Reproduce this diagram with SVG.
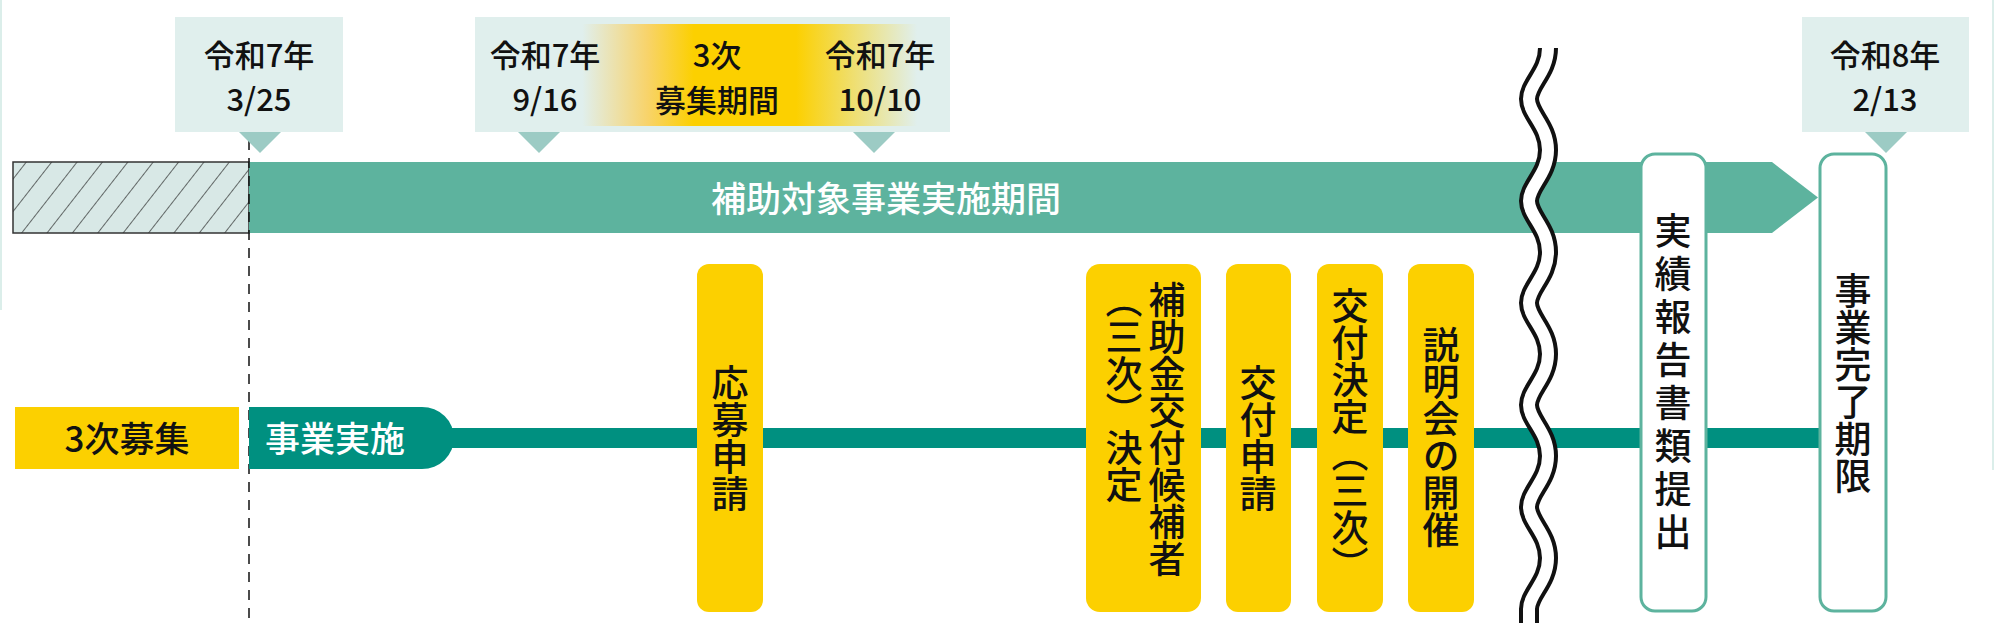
<svg xmlns="http://www.w3.org/2000/svg" width="2000" height="623" viewBox="0 0 2000 623">
<style>
text{font-family:"Noto Sans CJK JP","Noto Sans",sans-serif;}
.d{font-size:31px;fill:#111;text-anchor:middle;font-weight:500;}
.db{fill:#e0efed;}
.tri{fill:#9ccbc4;}
.pill{fill:#fcd000;}
.wpill{fill:#fff;stroke:#5db39e;stroke-width:3;}
.v{writing-mode:vertical-rl;font-size:37px;fill:#111;font-weight:500;}
.vm{text-anchor:middle;}
</style>
<defs>
<pattern id="hatch" patternUnits="userSpaceOnUse" width="20" height="20" patternTransform="rotate(38)">
<rect width="20" height="20" fill="#d8e8e6"/>
<line x1="0" y1="0" x2="0" y2="20" stroke="#222" stroke-width="1.3"/>
</pattern>
<linearGradient id="yg" x1="0" x2="1" y1="0" y2="0">
<stop offset="0" stop-color="#e0efed"/>
<stop offset="0.22" stop-color="#e0efed"/>
<stop offset="0.36" stop-color="#f8d36a"/>
<stop offset="0.46" stop-color="#fcd000"/>
<stop offset="0.68" stop-color="#fcd000"/>
<stop offset="0.94" stop-color="#e0efed"/>
</linearGradient>
</defs>
<rect width="2000" height="623" fill="#fff"/>
<line x1="1" y1="0" x2="1" y2="310" stroke="#dbeeea" stroke-width="2"/>
<line x1="1993" y1="0" x2="1993" y2="470" stroke="#dbeeea" stroke-width="2"/>

<g id="connectors">
<rect x="13" y="162" width="236" height="71" fill="url(#hatch)" stroke="#333" stroke-width="1.5"/>
<path d="M249 162 H1772 L1818 197.5 L1772 233 H249 Z" fill="#5db39e"/>
<line x1="249" y1="140" x2="249" y2="623" stroke="#111" stroke-width="1.5" stroke-dasharray="10,8"/>
<rect x="440" y="428" width="1380" height="20" fill="#009080"/>
</g>

<g id="bar-label"><text x="886" y="212" font-size="35" font-weight="500" fill="#fff" text-anchor="middle">補助対象事業実施期間</text></g>

<g id="date1">
<rect class="db" x="175" y="17" width="168" height="115"/>
<polygon class="tri" points="239,132 281,132 260,153"/>
<text class="d" x="259" y="67">令和7年</text>
<text class="d" x="259" y="111">3/25</text>
</g>
<g id="date2">
<rect class="db" x="475" y="17" width="475" height="115"/>
<rect x="480" y="24" width="465" height="102" fill="url(#yg)"/>
<polygon class="tri" points="518,132 560,132 539,153"/>
<polygon class="tri" points="853,132 895,132 874,153"/>
<text class="d" x="545" y="67">令和7年</text>
<text class="d" x="545" y="111">9/16</text>
<text class="d" x="717" y="67" font-weight="bold">3次</text>
<text class="d" x="717" y="112" font-weight="bold">募集期間</text>
<text class="d" x="880" y="67">令和7年</text>
<text class="d" x="880" y="111">10/10</text>
</g>
<g id="date3">
<rect class="db" x="1802" y="17" width="167" height="115"/>
<polygon class="tri" points="1865,132 1907,132 1886,153"/>
<text class="d" x="1885" y="67">令和8年</text>
<text class="d" x="1885" y="111">2/13</text>
</g>

<g id="recruit3">
<rect x="15" y="407" width="224" height="62" fill="#fcd000"/>
<text x="127" y="452" font-size="35" font-weight="500" fill="#111" text-anchor="middle">3次募集</text>
</g>
<g id="jigyo">
<path d="M249 407 H422 A32 31 0 0 1 422 469 H249 Z" fill="#009080"/>
<text x="335" y="452" font-size="35" font-weight="500" fill="#fff" text-anchor="middle">事業実施</text>
</g>

<g id="n-oubo"><rect class="pill" x="697" y="264" width="66" height="348" rx="12"/><text class="v vm" x="730" y="438">応募申請</text></g>
<g id="n-kouho"><rect class="pill" x="1086" y="264" width="115" height="348" rx="14"/>
<text class="v" x="1167" y="281">補助金交付候補者</text>
<text class="v" x="1124" y="281">（三次）決定</text></g>
<g id="n-koufushinsei"><rect class="pill" x="1226" y="264" width="65" height="348" rx="12"/><text class="v vm" x="1258" y="438">交付申請</text></g>
<g id="n-koufukettei"><rect class="pill" x="1317" y="264" width="66" height="348" rx="12"/><text class="v vm" x="1350" y="435">交付決定（三次）</text></g>
<g id="n-setsumei"><rect class="pill" x="1408" y="264" width="66" height="348" rx="12"/><text class="v vm" x="1441" y="437">説明会の開催</text></g>

<g id="wave">
<path d="M1548 48 C1548 72 1529 84 1529 99 C1529 114 1548 126 1548 150 C1548 174 1529 186 1529 201 C1529 216 1548 228 1548 252 C1548 276 1529 288 1529 303 C1529 318 1548 330 1548 354 C1548 378 1529 390 1529 405 C1529 420 1548 432 1548 456 C1548 480 1529 492 1529 507 C1529 522 1548 534 1548 558 C1548 582 1529 594 1529 609 L1529 623" fill="none" stroke="#111" stroke-width="20"/>
<path d="M1548 48 C1548 72 1529 84 1529 99 C1529 114 1548 126 1548 150 C1548 174 1529 186 1529 201 C1529 216 1548 228 1548 252 C1548 276 1529 288 1529 303 C1529 318 1548 330 1548 354 C1548 378 1529 390 1529 405 C1529 420 1548 432 1548 456 C1548 480 1529 492 1529 507 C1529 522 1548 534 1548 558 C1548 582 1529 594 1529 609 L1529 623" fill="none" stroke="#fff" stroke-width="12"/>
</g>

<g id="n-jisseki"><rect class="wpill" x="1641" y="154" width="65" height="457" rx="14"/><text class="v vm" x="1673" y="384" letter-spacing="6">実績報告書類提出</text></g>
<g id="n-kanryo"><rect class="wpill" x="1820" y="154" width="66" height="457" rx="14"/><text class="v vm" x="1853" y="383">事業完了期限</text></g>
</svg>
